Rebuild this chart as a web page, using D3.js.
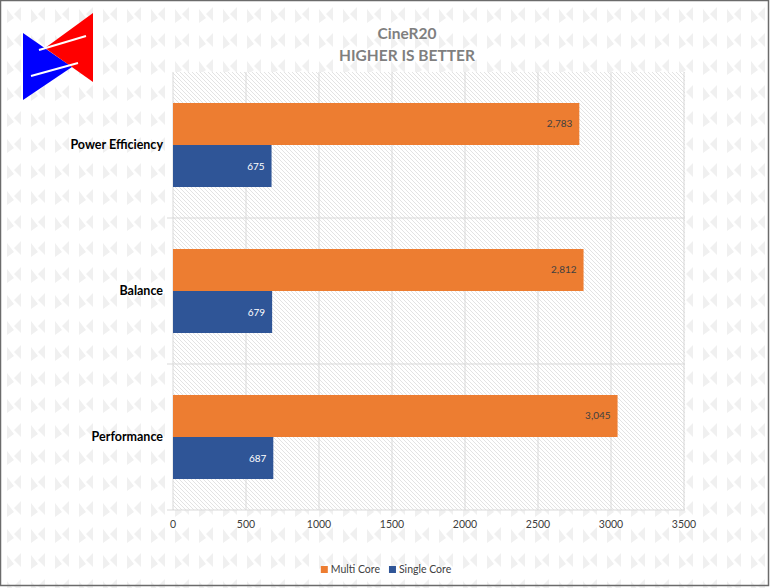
<!DOCTYPE html>
<html><head><meta charset="utf-8">
<script src="https://cdn.jsdelivr.net/npm/d3@7"></script>
<style>body{margin:0;background:#fff}svg{display:block}</style>
</head><body>
<script>
const categories = ["Power Efficiency", "Balance", "Performance"];
const seriesNames = ["Multi Core", "Single Core"];
const multiCore = [2783, 2812, 3045];
const singleCore = [675, 679, 687];
const xTicks = [0, 500, 1000, 1500, 2000, 2500, 3000, 3500];
const titleLines = ["CineR20", "HIGHER IS BETTER"];
const colors = {"Multi Core": "#ED7D31", "Single Core": "#2F5597"};

const W = 770, H = 588;
const plot = {left: 173, right: 684, top: 72, bottom: 510};
const FONT = "Lato, 'Open Sans', sans-serif";
const svg = d3.select("body").append("svg").attr("width", W).attr("height", H);
const defs = svg.append("defs");

// watermark pattern
const wm = defs.append("pattern").attr("id", "wm").attr("patternUnits", "userSpaceOnUse")
  .attr("width", 24).attr("height", 26).attr("x", 4).attr("y", 4);
wm.append("path").attr("d", "M3,5 L3,19 L10,14 Z M17,3 L17,17 L10,10 Z").attr("fill", "#f0f0f0");

// hatch pattern
const hp = defs.append("pattern").attr("id", "hatch").attr("patternUnits", "userSpaceOnUse")
  .attr("width", 4).attr("height", 4);
hp.append("rect").attr("width", 4).attr("height", 4).attr("fill", "#fff");
hp.append("path").attr("d", "M-1,-1 L5,5 M-1,3 L1,5 M3,-1 L5,1").attr("stroke", "#dcdcdc").attr("stroke-width", 0.8);

svg.append("rect").attr("width", W).attr("height", H).attr("fill", "#fff");
svg.append("rect").attr("width", W).attr("height", H).attr("fill", "url(#wm)");

// logo
const logo = svg.append("g");
logo.append("path").attr("d", "M23,33 L23,100 L72,67 Z").attr("fill", "#0000FF");
logo.append("path").attr("d", "M93,13 L93,82 L45,48 Z").attr("fill", "#FF0000");
logo.append("path").attr("d", "M39,50 L86,36").attr("stroke", "#fff").attr("stroke-width", 2);
logo.append("path").attr("d", "M31,76 L78,63").attr("stroke", "#fff").attr("stroke-width", 2);

const x = d3.scaleLinear().domain([0, 3500]).range([plot.left, plot.right]);
const y0 = d3.scaleBand().domain(categories).range([plot.top, plot.bottom]);
const y1 = d3.scaleBand().domain(seriesNames).range([0, y0.bandwidth()]).paddingInner(0).paddingOuter(0.738);

// plot area hatch
svg.append("rect").attr("x", plot.left).attr("y", plot.top)
  .attr("width", plot.right - plot.left + 1).attr("height", plot.bottom - plot.top)
  .attr("fill", "url(#hatch)");

// grid
svg.append("g").selectAll("line").data(xTicks).join("line")
  .attr("x1", d => x(d)).attr("x2", d => x(d))
  .attr("y1", plot.top).attr("y2", plot.bottom)
  .attr("stroke", "#d9d9d9").attr("stroke-width", 1);
const bounds = categories.slice(1).map(c => y0(c)).concat([plot.bottom]);
svg.append("g").selectAll("line").data(bounds).join("line")
  .attr("x1", plot.left - 6).attr("x2", plot.right + 1)
  .attr("y1", d => d).attr("y2", d => d)
  .attr("stroke", "#d9d9d9").attr("stroke-width", 1);

// bars
const rows = categories.map((c, i) => ({cat: c, vals: [
  {s: "Multi Core", v: multiCore[i]}, {s: "Single Core", v: singleCore[i]}]}));
const g = svg.append("g").selectAll("g").data(rows).join("g")
  .attr("transform", d => `translate(0,${y0(d.cat)})`);
g.selectAll("rect").data(d => d.vals).join("rect")
  .attr("x", x(0)).attr("y", d => y1(d.s))
  .attr("width", d => x(d.v) - x(0)).attr("height", y1.bandwidth())
  .attr("fill", d => colors[d.s]);
const fmt = d3.format(",");
g.selectAll("text").data(d => d.vals).join("text")
  .attr("x", d => x(d.v) - 7).attr("y", d => y1(d.s) + y1.bandwidth() / 2 + 3.5)
  .attr("text-anchor", "end").attr("font-family", FONT)
  .attr("font-size", 10).attr("fill", d => d.s === "Multi Core" ? "#404040" : "#fff")
  .text(d => fmt(d.v));

// category labels
svg.append("g").selectAll("text").data(categories).join("text")
  .attr("x", plot.left - 10).attr("y", d => y0(d) + y0.bandwidth() / 2 + 4)
  .attr("text-anchor", "end").attr("font-family", FONT)
  .attr("font-weight", "bold").attr("font-size", 12.5).attr("fill", "#000")
  .text(d => d);

// x tick labels
svg.append("g").selectAll("text").data(xTicks).join("text")
  .attr("x", d => x(d)).attr("y", plot.bottom + 18)
  .attr("text-anchor", "middle").attr("font-family", FONT)
  .attr("font-size", 10.5).attr("fill", "#404040").text(d => d);

// title
svg.append("g").selectAll("text").data(titleLines).join("text")
  .attr("x", 407).attr("y", (d, i) => 39 + i * 22)
  .attr("text-anchor", "middle").attr("font-family", FONT)
  .attr("font-weight", "bold").attr("font-size", 15.5).attr("fill", "#7f7f7f").text(d => d);

// legend (laid out by measured widths, centred)
const leg = svg.append("g").attr("font-family", FONT).attr("font-size", 10.5);
const items = seriesNames.map(s => {
  const it = leg.append("g");
  it.append("rect").attr("x", 0).attr("y", -7).attr("width", 7).attr("height", 7).attr("fill", colors[s]);
  const t = it.append("text").attr("x", 10).attr("y", 0).attr("fill", "#404040").text(s);
  return {g: it, w: 10 + t.node().getComputedTextLength()};
});
const gap = 9;
const total = d3.sum(items, d => d.w) + gap * (items.length - 1);
let cx = 386 - total / 2;
items.forEach(it => { it.g.attr("transform", `translate(${cx},573)`); cx += it.w + gap; });

// frame
svg.append("rect").attr("x", 0.5).attr("y", 0.5).attr("width", 768).attr("height", 585)
  .attr("fill", "none").attr("stroke", "#6b6b6b").attr("stroke-width", 1.5);
</script>
</body></html>
